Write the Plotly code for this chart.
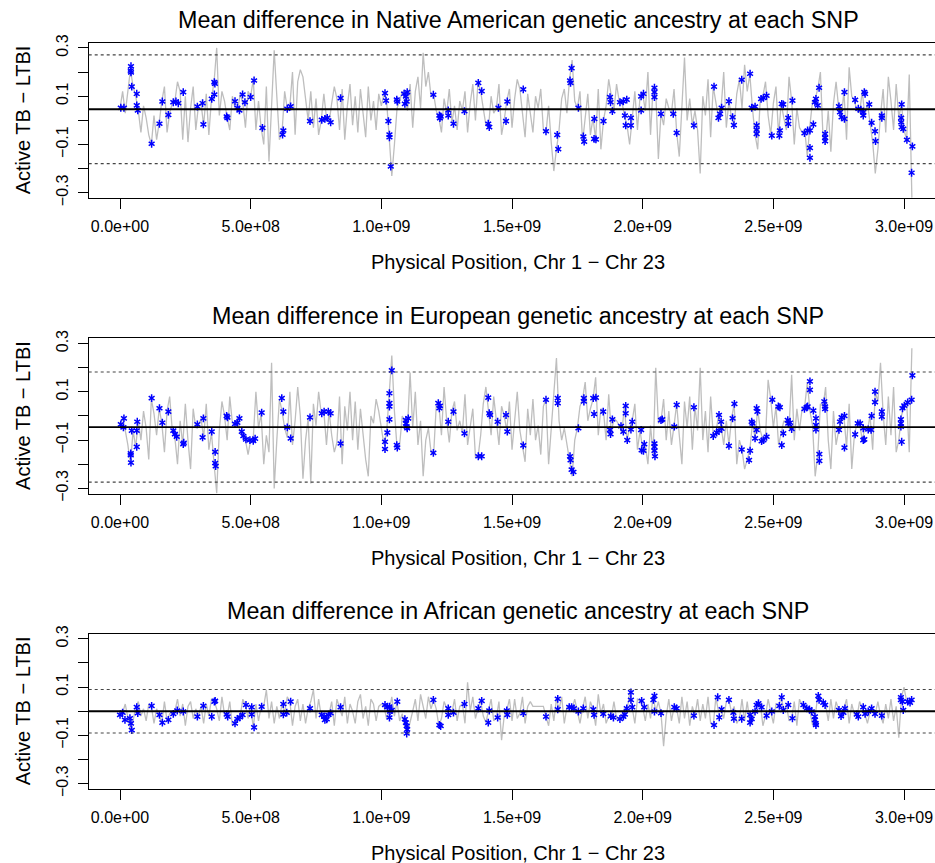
import plotly.graph_objects as go

FONT = "Liberation Sans, Arial, Helvetica, sans-serif"
W, H = 935, 863

# ---------------- text ----------------
panel_titles = [
    "Mean difference in Native American genetic ancestry at each SNP",
    "Mean difference in European genetic ancestry at each SNP",
    "Mean difference in African genetic ancestry at each SNP",
]
x_title = "Physical Position, Chr 1 \u2212 Chr 23"
y_title = "Active TB \u2212 LTBI"

x_tick_vals = [0, 5e8, 1e9, 1.5e9, 2e9, 2.5e9, 3e9]
x_tick_text = ["0.0e+00", "5.0e+08", "1.0e+09", "1.5e+09", "2.0e+09", "2.5e+09", "3.0e+09"]
y_tick_vals = [-0.3, -0.2, -0.1, 0.0, 0.1, 0.2, 0.3]
y_tick_text = ["\u22120.3", "", "\u22120.1", "", "0.1", "", "0.3"]

# genome-wide mean difference and +/- band for each panel
mean_diff = [0.046, -0.046, 0.0]
band_half = [0.225, 0.228, 0.090]

# ---------------- gray line: mean difference along the genome (positions in Mb) ----------------
line_pos_mb = [
    0, 10, 20, 30, 40, 50, 60, 70, 80, 90,
    100, 110, 120, 130, 140, 150, 160, 170, 180, 190,
    200, 210, 220, 230, 240, 250, 260, 270, 280, 290,
    300, 310, 320, 330, 340, 350, 360, 370, 380, 390,
    400, 410, 420, 430, 440, 450, 460, 470, 480, 490,
    500, 510, 520, 530, 540, 550, 560, 570, 580, 590,
    600, 610, 620, 630, 640, 650, 660, 670, 680, 690,
    700, 710, 720, 730, 740, 750, 760, 770, 780, 790,
    800, 810, 820, 830, 840, 850, 860, 870, 880, 890,
    900, 910, 920, 930, 940, 950, 960, 970, 980, 990,
    1000, 1010, 1020, 1030, 1040, 1050, 1060, 1070, 1080, 1090,
    1100, 1110, 1120, 1130, 1140, 1150, 1160, 1170, 1180, 1190,
    1200, 1210, 1220, 1230, 1240, 1250, 1260, 1270, 1280, 1290,
    1300, 1310, 1320, 1330, 1340, 1350, 1360, 1370, 1380, 1390,
    1400, 1410, 1420, 1430, 1440, 1450, 1460, 1470, 1480, 1490,
    1500, 1510, 1520, 1530, 1540, 1550, 1560, 1570, 1580, 1590,
    1600, 1610, 1620, 1630, 1640, 1650, 1660, 1670, 1680, 1690,
    1700, 1710, 1720, 1730, 1740, 1750, 1760, 1770, 1780, 1790,
    1800, 1810, 1820, 1830, 1840, 1850, 1860, 1870, 1880, 1890,
    1900, 1910, 1920, 1930, 1940, 1950, 1960, 1970, 1980, 1990,
    2000, 2010, 2020, 2030, 2040, 2050, 2060, 2070, 2080, 2090,
    2100, 2110, 2120, 2130, 2140, 2150, 2160, 2170, 2180, 2190,
    2200, 2210, 2220, 2230, 2240, 2250, 2260, 2270, 2280, 2290,
    2300, 2310, 2320, 2330, 2340, 2350, 2360, 2370, 2380, 2390,
    2400, 2410, 2420, 2430, 2440, 2450, 2460, 2470, 2480, 2490,
    2500, 2510, 2520, 2530, 2540, 2550, 2560, 2570, 2580, 2590,
    2600, 2610, 2620, 2630, 2640, 2650, 2660, 2670, 2680, 2690,
    2700, 2710, 2720, 2730, 2740, 2750, 2760, 2770, 2780, 2790,
    2800, 2810, 2820, 2830, 2840, 2850, 2860, 2870, 2880, 2890,
    2900, 2910, 2920, 2930, 2940, 2950, 2960, 2970, 2980, 2990,
    3000, 3010, 3020, 3030,
]

nat_line = [
    0.05, 0.12, 0.03, 0.13, 0.21, 0.14, 0.10, 0.04, -0.05, 0.06,
    0.01, -0.06, -0.10, 0.02, -0.08, -0.01, 0.08, 0.14, -0.05, 0.03,
    0.07, 0.08, 0.16, 0.12, -0.08, 0.10, -0.09, 0.05, 0.14, -0.04,
    0.06, 0.07, -0.02, 0.11, -0.06, 0.09, 0.16, 0.30, 0.02, 0.12,
    0.08, 0.01, -0.04, 0.10, 0.05, 0.04, 0.11, 0.07, -0.03, 0.12,
    0.10, 0.17, -0.04, 0.08, -0.03, -0.10, 0.14, -0.17, 0.05, 0.29,
    0.10, -0.08, -0.05, 0.12, 0.05, 0.06, 0.20, -0.06, 0.16, 0.21,
    0.18, 0.08, 0.00, 0.12, -0.03, 0.09, -0.06, 0.00, 0.11, 0.01,
    -0.01, 0.07, 0.14, 0.09, -0.04, 0.13, -0.08, 0.06, 0.15, -0.02,
    0.10, -0.05, 0.13, 0.03, -0.07, 0.14, 0.00, 0.08, -0.04, 0.11,
    0.06, 0.11, 0.08, -0.07, -0.23, -0.10, 0.05, 0.08, 0.12, 0.10,
    0.04, 0.15, -0.03, 0.12, 0.18, 0.05, 0.28, 0.14, 0.20, 0.10,
    0.11, 0.04, 0.01, -0.05, 0.09, 0.03, 0.13, -0.01, 0.06, -0.04,
    0.08, 0.04, 0.12, -0.05, 0.07, 0.15, 0.00, 0.16, 0.12, 0.05,
    -0.02, -0.03, 0.10, 0.03, 0.05, 0.15, -0.06, 0.00, 0.08, 0.13,
    -0.03, 0.09, 0.17, 0.13, 0.03, -0.07, 0.11, 0.04, -0.05, 0.10,
    0.05, 0.13, -0.04, -0.05, 0.06, -0.09, -0.21, -0.12, -0.04, 0.09,
    0.13, 0.03, 0.17, 0.25, 0.08, 0.05, 0.12, -0.09, 0.02, 0.11,
    -0.06, 0.01, -0.08, 0.13, -0.12, 0.00, 0.06, 0.17, 0.10, 0.04,
    0.15, 0.08, 0.08, 0.02, -0.02, -0.10, 0.01, 0.12, -0.04, 0.10,
    0.11, 0.04, 0.20, -0.06, 0.14, 0.12, -0.16, 0.03, -0.02, 0.09,
    0.05, 0.03, 0.13, -0.05, -0.15, 0.05, 0.26, 0.00, 0.09, -0.02,
    0.04, -0.04, -0.22, 0.10, 0.02, 0.17, -0.07, 0.14, 0.08, 0.01,
    0.05, 0.20, -0.03, 0.08, 0.01, -0.02, 0.11, 0.17, 0.05, 0.23,
    0.12, 0.19, 0.05, -0.06, -0.12, 0.09, 0.10, 0.16, 0.02, -0.06,
    0.07, 0.14, -0.06, 0.07, 0.01, -0.04, 0.18, 0.08, -0.10, 0.05,
    -0.03, -0.05, -0.04, -0.15, -0.02, 0.08, 0.09, 0.13, 0.20, -0.07,
    -0.09, 0.04, -0.13, 0.07, 0.16, 0.05, 0.01, 0.12, -0.08, 0.22,
    0.10, 0.08, 0.04, 0.03, 0.12, 0.02, 0.07, -0.01, -0.09, -0.22,
    -0.12, 0.02, 0.13, -0.05, 0.18, 0.08, -0.04, 0.15, 0.01, 0.07,
    -0.04, -0.08, 0.19, -0.32,
]

eur_line = [
    -0.03, -0.01, -0.06, -0.12, -0.20, -0.06, -0.13, -0.02, -0.10, 0.02,
    -0.05, -0.18, 0.07, 0.01, -0.08, 0.03, -0.03, -0.15, 0.02, 0.08,
    -0.06, -0.09, -0.20, -0.02, -0.12, 0.05, -0.10, -0.22, 0.03, -0.05,
    -0.04, -0.01, -0.09, 0.05, -0.14, -0.07, -0.20, -0.32, -0.06, 0.06,
    0.00, -0.10, 0.08, -0.03, -0.03, -0.01, -0.07, -0.08, -0.10, -0.16,
    -0.10, -0.09, 0.10, -0.05, 0.01, -0.20, -0.08, -0.15, 0.22, -0.30,
    -0.10, 0.07, 0.02, -0.05, -0.09, 0.10, -0.12, -0.02, 0.12, 0.00,
    -0.26, -0.10, -0.01, -0.28, 0.05, -0.04, 0.10, 0.01, 0.02, -0.12,
    0.02, -0.08, -0.15, -0.11, 0.08, -0.20, 0.04, -0.06, 0.10, -0.10,
    0.06, -0.14, 0.03, -0.08, -0.18, -0.25, 0.00, -0.03, 0.07, 0.02,
    -0.05, -0.12, -0.07, 0.09, 0.25, 0.02, -0.13, -0.12, 0.00, -0.03,
    -0.05, 0.18, -0.05, 0.10, -0.12, -0.02, -0.25, -0.10, -0.05, -0.15,
    -0.16, 0.04, 0.05, -0.08, 0.12, -0.02, -0.11, 0.02, 0.06, -0.06,
    -0.02, -0.07, 0.09, -0.12, -0.04, 0.03, -0.17, -0.17, -0.08, 0.05,
    0.12, 0.01, -0.08, 0.08, -0.02, -0.12, 0.04, 0.00, -0.06, 0.06,
    -0.14, -0.02, 0.10, -0.06, -0.12, -0.19, 0.03, -0.08, 0.07, -0.10,
    -0.04, -0.16, 0.04, 0.07, -0.20, -0.06, 0.06, 0.24, -0.02, -0.10,
    -0.05, -0.12, -0.18, -0.25, -0.10, -0.05, 0.04, 0.07, 0.14, -0.02,
    0.03, 0.07, 0.16, -0.08, 0.03, 0.02, -0.10, 0.09, -0.07, -0.01,
    -0.02, -0.04, -0.07, 0.04, -0.10, -0.05, -0.02, 0.05, -0.14, -0.06,
    -0.14, -0.12, -0.20, -0.04, -0.16, 0.20, -0.03, -0.02, 0.07, -0.10,
    0.02, -0.12, -0.04, 0.05, -0.08, -0.20, 0.06, -0.05, 0.08, -0.14,
    0.04, -0.06, 0.20, -0.10, 0.02, -0.15, 0.08, -0.08, -0.07, 0.00,
    -0.04, -0.12, -0.02, -0.12, -0.01, 0.05, -0.20, -0.10, -0.14, -0.22,
    -0.18, -0.14, -0.03, -0.09, 0.03, -0.06, -0.10, -0.09, 0.15, 0.07,
    -0.05, 0.04, -0.12, -0.07, -0.02, -0.03, -0.05, 0.17, -0.10, 0.03,
    -0.06, 0.03, 0.04, 0.14, 0.02, -0.04, -0.25, -0.16, 0.05, 0.04,
    0.12, -0.10, -0.22, 0.02, -0.12, -0.06, -0.02, 0.00, -0.13, 0.05,
    -0.22, -0.08, -0.03, -0.03, -0.10, -0.05, -0.06, 0.00, -0.14, 0.10,
    0.06, 0.22, 0.01, -0.12, 0.08, -0.08, 0.12, -0.15, -0.10, 0.00,
    0.04, 0.06, -0.15, 0.28,
]

afr_line = [
    -0.015, -0.006, 0.03, -0.03, -0.08, -0.04, 0.017, 0.04, -0.02, 0.01,
    -0.04, 0.03, 0.02, -0.05, 0.01, -0.02, -0.05, 0.04, -0.04, -0.01,
    -0.01, 0.00, 0.05, -0.02, 0.03, -0.06, 0.02, 0.04, -0.03, 0.01,
    -0.02, 0.02, -0.05, 0.03, -0.02, 0.05, 0.043, 0.01, -0.04, 0.06,
    -0.015, -0.02, 0.04, -0.06, -0.05, -0.03, -0.02, 0.05, 0.026, -0.03,
    0.017, -0.067, 0.03, -0.04, 0.019, 0.02, 0.089, -0.03, 0.04, -0.05,
    0.02, -0.03, 0.03, -0.006, 0.06, 0.04, -0.06, 0.02, 0.05, -0.04,
    0.03, -0.05, 0.012, 0.04, 0.09, -0.03, 0.05, -0.02, -0.036, -0.03,
    -0.01, 0.04, -0.06, 0.05, 0.017, -0.02, 0.06, -0.05, 0.03, 0.00,
    -0.05, 0.04, 0.07, -0.03, 0.02, -0.06, 0.05, 0.03, -0.04, 0.02,
    0.03, 0.02, -0.03, 0.00, 0.06, -0.02, 0.04, -0.04, -0.01, -0.07,
    -0.09, -0.05, 0.00, 0.05, -0.04, 0.07, 0.02, -0.03, 0.06, 0.01,
    0.047, 0.01, -0.06, -0.03, 0.04, 0.01, -0.015, -0.006, 0.05, -0.04,
    0.02, 0.03, -0.05, 0.12, 0.00, 0.06, -0.03, 0.012, 0.043, -0.02,
    -0.047, 0.003, 0.05, -0.04, -0.026, 0.04, -0.12, -0.02, 0.003, 0.05,
    -0.04, 0.05, -0.03, -0.008, 0.06, -0.05, 0.02, 0.04, 0.02, 0.02,
    0.02, 0.02, 0.02, -0.022, -0.06, 0.03, -0.04, 0.051, 0.008, 0.06,
    -0.05, 0.017, 0.017, 0.012, 0.05, -0.001, -0.05, 0.012, 0.06, -0.03,
    0.04, 0.008, -0.06, 0.07, -0.011, 0.03, -0.05, -0.02, -0.026, 0.04,
    -0.03, -0.032, -0.022, 0.012, 0.00, 0.078, 0.017, -0.05, 0.05, 0.043,
    0.017, -0.04, 0.03, -0.03, 0.064, -0.001, 0.04, -0.008, -0.145, -0.02,
    0.05, -0.04, 0.017, 0.012, -0.05, 0.06, -0.03, 0.04, -0.06, 0.02,
    -0.018, 0.05, -0.04, 0.03, -0.03, 0.06, -0.05, -0.057, 0.058, 0.00,
    0.008, -0.03, 0.04, 0.047, -0.006, 0.02, -0.05, -0.031, 0.05, -0.04,
    0.04, -0.047, -0.032, -0.001, 0.026, 0.033, -0.06, -0.018, 0.05, -0.001,
    -0.05, 0.03, 0.022, 0.058, 0.005, 0.026, -0.04, -0.029, 0.04, -0.06,
    0.05, 0.026, 0.012, 0.008, -0.001, -0.057, -0.02, 0.064, 0.047, 0.036,
    0.026, -0.04, 0.05, -0.03, 0.04, 0.005, -0.02, 0.012, 0.05, -0.05,
    0.03, -0.013, -0.022, 0.04, 0.017, -0.011, -0.05, -0.001, 0.012, -0.011,
    0.04, -0.018, -0.05, 0.03, -0.03, 0.05, -0.04, 0.02, -0.11, 0.058,
    0.10, 0.04, 0.036, 0.047,
]

# ---------------- significant SNPs (blue stars): (position Mb, difference) ----------------
nat_stars = [
    (3, 0.052), (15, 0.052), (42, 0.224), (42, 0.199), (41, 0.206), (45, 0.140), (64, 0.110),
    (64, 0.062), (68, 0.041), (121, -0.097), (151, -0.014), (162, 0.078), (185, 0.023),
    (204, 0.075), (214, 0.078), (223, 0.071), (242, 0.117), (296, 0.057), (316, 0.071),
    (319, -0.017), (351, 0.089), (361, 0.158), (363, 0.152), (361, 0.107), (408, 0.016),
    (411, 0.010), (440, 0.079), (449, 0.052), (457, 0.041), (469, 0.107), (478, 0.075),
    (500, 0.096), (513, 0.165), (545, -0.031), (622, -0.059), (625, -0.042), (640, 0.048),
    (653, 0.058), (727, -0.003), (772, 0.002), (784, 0.006), (793, 0.010), (806, -0.008),
    (844, 0.092), (1014, 0.113), (1018, 0.082), (1027, -0.003), (1031, -0.059), (1031, -0.070),
    (1036, -0.191), (1059, 0.086), (1061, 0.078), (1087, 0.110), (1094, 0.099), (1097, 0.078),
    (1090, 0.068), (1099, 0.117), (1199, 0.106), (1222, 0.020), (1224, 0.009), (1227, 0.016),
    (1256, 0.041), (1256, 0.020), (1276, -0.014), (1318, 0.038), (1371, 0.155), (1384, 0.121),
    (1409, -0.014), (1413, -0.028), (1448, 0.052), (1477, -0.003), (1482, 0.078), (1543, 0.128),
    (1630, -0.045), (1673, -0.060), (1677, -0.119), (1728, 0.216), (1722, 0.165), (1724, 0.155),
    (1754, 0.052), (1773, -0.067), (1776, -0.088), (1815, 0.006), (1814, -0.077), (1821, -0.079),
    (1850, -0.003), (1875, 0.096), (1877, 0.075), (1884, 0.038), (1913, 0.075), (1926, 0.079),
    (1939, 0.086), (1932, 0.020), (1935, -0.021), (1955, 0.010), (1955, -0.021), (1994, 0.099),
    (2003, 0.110), (1994, 0.041), (2045, 0.135), (2045, 0.117), (2045, 0.096), (2070, 0.027),
    (2117, 0.027), (2130, -0.052), (2196, -0.021), (2273, 0.140), (2290, 0.010), (2296, 0.027),
    (2302, 0.052), (2330, 0.079), (2344, 0.013), (2349, -0.020), (2379, 0.168), (2411, 0.193),
    (2417, 0.052), (2430, 0.057), (2453, 0.089), (2462, 0.093), (2474, 0.102), (2436, -0.021),
    (2436, -0.039), (2436, -0.056), (2494, -0.063), (2523, -0.063), (2525, -0.042), (2532, 0.068),
    (2538, 0.066), (2557, 0.010), (2557, -0.015), (2573, 0.082), (2619, -0.053), (2631, -0.042),
    (2640, -0.042), (2640, -0.114), (2640, -0.155), (2653, -0.017), (2659, 0.075), (2663, 0.089),
    (2670, 0.062), (2675, 0.135), (2698, -0.056), (2698, -0.072), (2698, -0.086), (2751, 0.058),
    (2755, 0.034), (2761, 0.013), (2772, 0.006), (2772, 0.117), (2813, 0.085), (2825, 0.048),
    (2835, 0.044), (2848, 0.117), (2851, 0.110), (2844, 0.034), (2844, 0.020), (2867, 0.066),
    (2876, -0.010), (2889, -0.045), (2891, -0.086), (2915, 0.020), (2915, 0.010), (2991, 0.066),
    (2989, 0.010), (2989, -0.008), (2991, -0.028), (2997, -0.035), (3011, -0.081), (3032, -0.108),
    (3029, -0.217),
]

eur_stars = [
    (3, -0.035), (15, -0.010), (13, -0.047), (45, -0.061), (64, -0.061), (41, -0.155), (41, -0.162),
    (42, -0.193), (66, -0.024), (64, -0.128), (121, 0.074), (151, 0.032), (162, -0.028), (185, 0.018),
    (204, -0.061), (210, -0.075), (217, -0.086), (242, -0.117), (244, -0.111), (296, -0.035),
    (319, -0.010), (316, -0.089), (351, -0.065), (364, -0.149), (364, -0.195), (366, -0.208),
    (408, 0.000), (411, -0.006), (440, -0.033), (449, -0.028), (457, -0.010), (466, -0.065),
    (472, -0.083), (482, -0.097), (497, -0.100), (510, -0.103), (517, -0.094), (542, 0.014),
    (619, 0.074), (625, 0.018), (640, -0.047), (653, -0.093), (727, -0.006), (772, 0.011),
    (781, 0.018), (797, 0.018), (806, 0.011), (844, -0.114), (1014, -0.107), (1014, -0.137),
    (1023, -0.069), (1031, -0.014), (1031, 0.053), (1031, 0.039), (1031, 0.094), (1040, 0.189),
    (1059, -0.121), (1061, -0.131), (1094, -0.017), (1094, -0.031), (1097, -0.044), (1099, -0.051),
    (1103, -0.010), (1199, -0.153), (1218, 0.053), (1224, 0.042), (1222, 0.032), (1256, -0.024),
    (1276, 0.018), (1318, -0.072), (1371, -0.167), (1384, -0.167), (1409, 0.076), (1413, 0.011),
    (1416, 0.004), (1445, -0.024), (1477, 0.004), (1482, -0.065), (1543, -0.122), (1630, 0.067),
    (1675, 0.074), (1675, 0.053), (1722, -0.167), (1724, -0.183), (1728, -0.222), (1735, -0.232),
    (1754, -0.051), (1775, 0.074), (1775, 0.060), (1811, 0.074), (1821, 0.076), (1814, 0.008),
    (1849, 0.018), (1884, -0.014), (1875, -0.058), (1877, -0.075), (1917, -0.042), (1926, -0.065),
    (1935, 0.042), (1935, 0.011), (1941, -0.100), (1955, -0.056), (1960, -0.024), (1994, -0.058),
    (1996, -0.142), (2003, -0.144), (2006, -0.117), (2045, -0.114), (2045, -0.128), (2045, -0.144),
    (2047, -0.167), (2070, -0.017), (2075, -0.014), (2121, -0.044), (2130, 0.046), (2196, 0.036),
    (2270, -0.083), (2283, -0.069), (2292, -0.061), (2302, -0.053), (2292, 0.004), (2300, -0.024),
    (2330, -0.124), (2351, 0.050), (2344, -0.010), (2379, -0.139), (2411, -0.144), (2407, -0.183),
    (2417, -0.024), (2420, -0.031), (2436, 0.032), (2439, 0.018), (2436, -0.058), (2430, -0.093),
    (2455, -0.104), (2462, -0.100), (2474, -0.086), (2496, 0.067), (2519, 0.039), (2525, 0.036),
    (2532, -0.121), (2538, -0.072), (2555, -0.017), (2557, -0.031), (2564, -0.028), (2570, -0.054),
    (2619, 0.029), (2631, 0.039), (2628, 0.036), (2640, 0.143), (2640, 0.108), (2653, 0.022),
    (2663, -0.010), (2663, -0.038), (2663, -0.056), (2676, -0.158), (2676, -0.186), (2695, 0.060),
    (2698, 0.039), (2698, 0.029), (2751, -0.058), (2755, -0.024), (2761, -0.006), (2772, 0.000),
    (2772, -0.131), (2813, -0.076), (2823, -0.031), (2832, -0.031), (2844, -0.051), (2848, -0.097),
    (2844, -0.100), (2863, -0.056), (2874, -0.058), (2876, 0.000), (2889, 0.101), (2889, 0.057),
    (2915, 0.018), (2915, -0.003), (2988, -0.014), (2988, -0.031), (2988, -0.044), (2991, -0.107),
    (2994, 0.032), (3001, 0.043), (3014, 0.056), (3029, 0.067), (3032, 0.168),
]

afr_stars = [
    (0, -0.015), (10, -0.006), (19, -0.036), (38, -0.029), (42, -0.050), (45, -0.078), (64, 0.017),
    (68, -0.008), (121, 0.022), (151, -0.015), (162, -0.047), (185, -0.036), (204, -0.011),
    (219, 0.003), (242, -0.001), (296, -0.022), (319, 0.022), (364, 0.043), (361, 0.040),
    (351, -0.022), (408, -0.013), (412, -0.022), (440, -0.050), (449, -0.032), (459, -0.025),
    (469, -0.015), (482, 0.026), (504, 0.017), (504, -0.013), (513, -0.067), (542, 0.019),
    (625, 0.030), (625, -0.013), (638, -0.006), (653, 0.040), (727, 0.012), (772, -0.015),
    (781, -0.022), (791, -0.033), (797, -0.015), (806, -0.008), (784, -0.036), (844, 0.017),
    (1014, 0.026), (1023, 0.017), (1031, 0.019), (1033, -0.001), (1031, -0.026), (1040, 0.005),
    (1061, 0.040), (1090, -0.033), (1094, -0.047), (1097, -0.061), (1099, -0.075), (1097, -0.092),
    (1199, 0.047), (1222, -0.057), (1227, -0.061), (1256, 0.012), (1256, -0.015), (1276, -0.006),
    (1318, 0.030), (1371, 0.012), (1384, 0.043), (1413, 0.003), (1409, -0.047), (1445, -0.026),
    (1480, 0.003), (1482, -0.015), (1543, -0.008), (1630, -0.022), (1675, 0.051), (1675, 0.008),
    (1719, 0.017), (1728, 0.017), (1737, 0.012), (1754, -0.001), (1773, 0.012), (1811, 0.008),
    (1814, -0.015), (1849, -0.011), (1878, -0.020), (1888, -0.026), (1913, -0.032), (1926, -0.022),
    (1932, -0.013), (1939, 0.012), (1955, 0.078), (1955, 0.047), (1960, 0.017), (1996, 0.043),
    (2006, 0.017), (2045, 0.064), (2041, 0.047), (2045, -0.001), (2070, -0.008), (2121, 0.017),
    (2130, 0.012), (2196, -0.018), (2273, -0.057), (2287, 0.058), (2293, -0.025), (2302, 0.008),
    (2330, 0.047), (2347, -0.006), (2349, -0.031), (2379, -0.031), (2411, -0.015), (2411, -0.047),
    (2417, -0.032), (2430, -0.001), (2436, 0.026), (2443, 0.033), (2455, 0.017), (2474, -0.018),
    (2494, -0.001), (2523, 0.022), (2532, 0.058), (2538, 0.005), (2557, 0.026), (2573, -0.029),
    (2615, 0.026), (2628, 0.012), (2638, 0.008), (2647, -0.001), (2659, -0.022), (2659, -0.036),
    (2662, -0.050), (2663, -0.057), (2672, 0.064), (2675, 0.047), (2691, 0.036), (2698, 0.026),
    (2751, 0.005), (2759, -0.020), (2768, -0.006), (2774, 0.012), (2819, -0.013), (2825, -0.022),
    (2844, 0.017), (2851, -0.011), (2863, -0.001), (2876, 0.012), (2889, -0.011), (2915, -0.018),
    (2988, 0.058), (2988, 0.047), (2994, 0.040), (2997, 0.005), (3014, 0.040), (3023, 0.036),
    (3029, 0.047),
]

# ---------------- layout geometry (pixels) ----------------
BOX_LEFT = 88.7
BOX_TOPS = [42.6, 338.2, 633.5]
BOX_H = 155.5
Y_RANGE = [-0.322, 0.322]
X_RANGE = [-1.198e8, 3.1185e9]
CENTER_X = 518.0

fig = go.Figure()

lines = [nat_line, eur_line, afr_line]
stars = [nat_stars, eur_stars, afr_stars]
MB = 1e6

for i in range(3):
    sfx = "" if i == 0 else str(i + 1)
    xa, ya = "x" + sfx, "y" + sfx
    n = min(len(line_pos_mb), len(lines[i]))
    fig.add_trace(go.Scatter(
        x=[p * MB for p in line_pos_mb[:n]], y=lines[i][:n], mode="lines",
        line=dict(color="#BEBEBE", width=1.3), xaxis=xa, yaxis=ya,
        hoverinfo="skip", showlegend=False))
    sx = [p * MB for p, v in stars[i]]
    sy = [v for p, v in stars[i]]
    for sym in ["y-up-open", "y-down-open"]:
        fig.add_trace(go.Scatter(
            x=sx, y=sy, mode="markers",
            marker=dict(symbol=sym, size=4.9, line=dict(color="#0000FF", width=1.5), color="#0000FF"),
            xaxis=xa, yaxis=ya, hoverinfo="skip", showlegend=False))

    top = BOX_TOPS[i]
    bottom = top + BOX_H
    ydom = [1 - bottom / H, 1 - top / H]
    axis_common = dict(
        showgrid=False, zeroline=False, showline=True, linecolor="black", linewidth=1.3,
        ticks="outside", ticklen=10, tickwidth=1.3, tickcolor="black",
        tickfont=dict(family=FONT, size=16, color="black"), automargin=False,
    )
    fig.layout["xaxis" + sfx] = dict(
        axis_common, domain=[BOX_LEFT / W, 1.0], range=X_RANGE, mirror=True,
        tickmode="array", tickvals=x_tick_vals, ticktext=x_tick_text,
        ticklabelstandoff=4, anchor=ya,
    )
    fig.layout["yaxis" + sfx] = dict(
        axis_common, domain=ydom, range=Y_RANGE, mirror=False,
        tickmode="array", tickvals=y_tick_vals, ticktext=y_tick_text,
        tickangle=-90, ticklabelstandoff=3, anchor=xa,
    )

    # mean line and +/- band lines
    fig.add_shape(type="line", xref=xa + " domain", yref=ya, x0=0, x1=1,
                  y0=mean_diff[i], y1=mean_diff[i], line=dict(color="black", width=1.8))
    for sgn in (1, -1):
        yv = mean_diff[i] + sgn * band_half[i]
        fig.add_shape(type="line", xref=xa + " domain", yref=ya, x0=0, x1=1,
                      y0=yv, y1=yv, line=dict(color="#444444", width=1.2, dash="dot"))

    # titles
    fig.add_annotation(text=panel_titles[i], xref="paper", yref="paper",
                       x=CENTER_X / W, y=1 - (top - 22.6) / H, xanchor="center", yanchor="middle",
                       showarrow=False, font=dict(family=FONT, size=23.3, color="black"))
    fig.add_annotation(text=x_title, xref="paper", yref="paper",
                       x=CENTER_X / W, y=1 - (bottom + 64) / H, xanchor="center", yanchor="middle",
                       showarrow=False, font=dict(family=FONT, size=20, color="black"))
    fig.add_annotation(text=y_title, xref="paper", yref="paper", textangle=-90,
                       x=23 / W, y=1 - (top + BOX_H / 2) / H, xanchor="center", yanchor="middle",
                       showarrow=False, font=dict(family=FONT, size=20, color="black"))

fig.update_layout(
    width=W, height=H, margin=dict(l=0, r=0, t=0, b=0),
    paper_bgcolor="white", plot_bgcolor="white",
    font=dict(family=FONT, color="black"), showlegend=False,
)

# remove the default 8px page margin so the figure sits at the window's top-left corner
fig.write_html("out.html", config={"displayModeBar": False},
               post_script="document.body.style.margin='0';")
